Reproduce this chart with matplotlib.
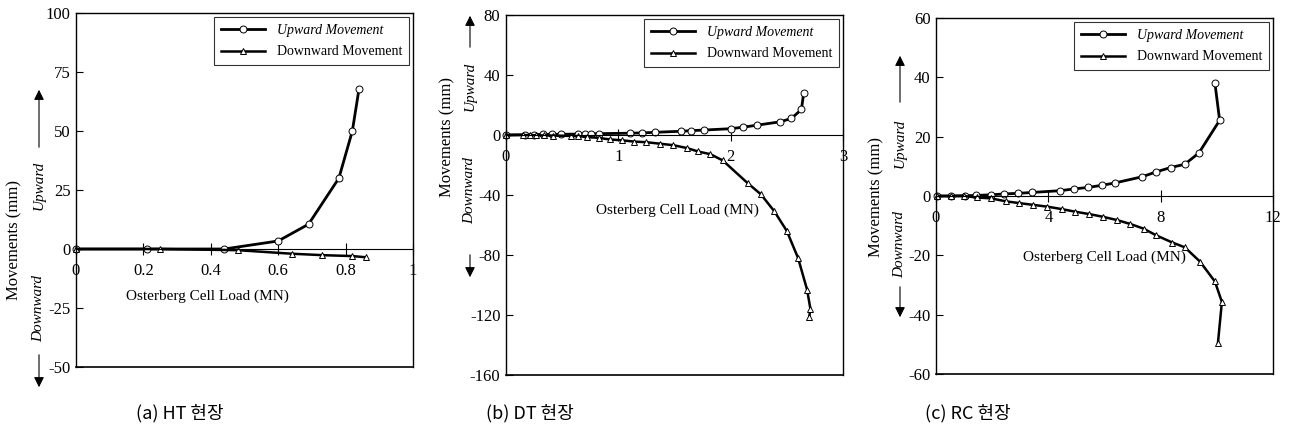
import numpy as np
import matplotlib.pyplot as plt
from matplotlib.patches import FancyArrowPatch

plt.rcParams['font.family'] = ['Liberation Serif', 'DejaVu Serif']
plt.rcParams['axes.unicode_minus'] = False

W, H = 1293, 436

# (a) HT site
a_up_x = [0.0, 0.21, 0.44, 0.60, 0.69, 0.78, 0.82, 0.84]
a_up_y = [0.0, 0.0, 0.0, 3.4, 10.5, 30.0, 50.0, 68.0]
a_dn_x = [0.0, 0.25, 0.48, 0.64, 0.73, 0.82, 0.86]
a_dn_y = [0.0, 0.0, -0.5, -2.0, -2.6, -3.0, -3.5]

# (b) DT site
b_up_x = [0.0, 0.17, 0.25, 0.33, 0.41, 0.49, 0.64, 0.70, 0.76, 0.83, 1.10, 1.21,
          1.33, 1.56, 1.65, 1.76, 2.00, 2.11, 2.23, 2.44, 2.54, 2.63, 2.65]
b_up_y = [0.0, 0.2, 0.3, 0.4, 0.5, 0.5, 0.6, 0.7, 0.8, 0.9, 1.2, 1.4,
          1.8, 2.5, 2.9, 3.3, 4.2, 5.2, 6.5, 8.8, 11.0, 17.0, 28.0]
b_dn_x = [0.0, 0.15, 0.21, 0.27, 0.34, 0.42, 0.58, 0.64, 0.72, 0.83, 0.93, 1.03,
          1.14, 1.25, 1.37, 1.49, 1.61, 1.71, 1.82, 1.93, 2.15, 2.27, 2.39, 2.50,
          2.60, 2.68, 2.71, 2.70]
b_dn_y = [0.0, 0.0, -0.1, -0.2, -0.3, -0.4, -0.6, -0.8, -1.2, -2.0, -3.0, -3.5,
          -4.4, -4.8, -5.8, -6.8, -8.7, -11.0, -12.8, -17.0, -32.0, -39.6, -51.0, -64.0,
          -82.0, -103.0, -116.0, -121.0]

# (c) RC site
c_up_x = [0.05, 0.52, 1.05, 1.43, 1.96, 2.43, 2.93, 3.43, 4.43, 4.93, 5.43, 5.90,
          6.37, 7.35, 7.83, 8.36, 8.86, 9.36, 10.10, 9.93]
c_up_y = [0.0, 0.0, 0.1, 0.2, 0.4, 0.7, 0.9, 1.2, 1.8, 2.4, 2.9, 3.6,
          4.4, 6.5, 8.1, 9.6, 10.7, 14.5, 25.5, 38.2]
c_dn_x = [0.05, 0.52, 1.0, 1.45, 1.96, 2.49, 2.97, 3.47, 3.97, 4.47, 4.96, 5.46,
          5.94, 6.44, 6.91, 7.39, 7.85, 8.42, 8.86, 9.40, 9.93, 10.18, 10.04]
c_dn_y = [0.0, 0.0, 0.0, -0.5, -0.8, -1.8, -2.4, -3.0, -3.6, -4.4, -5.3, -6.1,
          -7.0, -8.1, -9.4, -11.0, -13.3, -15.7, -17.3, -22.1, -28.8, -35.7, -49.5]

panels = [
    dict(rect=(76, 13, 413, 367), xlim=(0, 1), ylim=(-50, 100),
         xticks=[0, 0.2, 0.4, 0.6, 0.8, 1], xtl=['0', '0.2', '0.4', '0.6', '0.8', '1'],
         yticks=[-50, -25, 0, 25, 50, 75, 100],
         up=(a_up_x, a_up_y), dn=(a_dn_x, a_dn_y), load=(0.39, -20),
         ylab=(14, 240), upw=(39, 185), upar=(150, 87), dnw=(39, 308), dnar=(352, 390),
         cap=(180, 'a', 'HT')),
    dict(rect=(506, 15, 843, 375), xlim=(0, 3), ylim=(-160, 80),
         xticks=[0, 1, 2, 3], xtl=['0', '1', '2', '3'],
         yticks=[-160, -120, -80, -40, 0, 40, 80],
         up=(b_up_x, b_up_y), dn=(b_dn_x, b_dn_y), load=(1.53, -50),
         ylab=(447, 137), upw=(470, 86), upar=(50, 13), dnw=(470, 190), dnar=(252, 280),
         cap=(530, 'b', 'DT')),
    dict(rect=(936, 18, 1273, 374), xlim=(0, 12), ylim=(-60, 60),
         xticks=[0, 4, 8, 12], xtl=['0', '4', '8', '12'],
         yticks=[-60, -40, -20, 0, 20, 40, 60],
         up=(c_up_x, c_up_y), dn=(c_dn_x, c_dn_y), load=(6.0, -20.5),
         ylab=(876, 197), upw=(900, 143), upar=(105, 53), dnw=(900, 244), dnar=(284, 320),
         cap=(968, 'c', 'RC')),
]

fig = plt.figure(figsize=(W / 100, H / 100), dpi=100)


def fx(px):
    return px / W


def fy(py):
    return 1 - py / H


for p in panels:
    l, t, r, b = p['rect']
    ax = fig.add_axes([fx(l), fy(b), (r - l) / W, (b - t) / H])
    ax.set_xlim(*p['xlim'])
    ax.set_ylim(*p['ylim'])

    ux, uy = p['up']
    dx, dy = p['dn']
    ax.plot(ux, uy, '-', color='k', lw=2, marker='o', ms=5, mfc='white', mec='k', mew=0.7,
            label='Upward Movement', clip_on=False)
    ax.plot(dx, dy, '-', color='k', lw=1.8, marker='^', ms=5, mfc='white', mec='k', mew=0.7,
            label='Downward Movement', clip_on=False)

    # x axis drawn through zero, keep the bottom frame line too
    ax.spines['bottom'].set_position(('data', 0))
    ax.spines['bottom'].set_linewidth(0.8)
    ax.plot([0, 1], [0, 0], transform=ax.transAxes, color='k', lw=1.2, clip_on=False)
    for s in ['left', 'right', 'top']:
        ax.spines[s].set_linewidth(1.0)

    ax.set_xticks(p['xticks'])
    ax.set_xticklabels(p['xtl'])
    ax.set_yticks(p['yticks'])
    ax.tick_params(axis='x', direction='inout', length=8, width=0.8, pad=6, labelsize=12)
    ax.tick_params(axis='y', direction='in', length=5, width=0.8, pad=4, labelsize=12)

    ax.text(p['load'][0], p['load'][1], 'Osterberg Cell Load (MN)', fontsize=11,
            ha='center', va='center')

    leg = ax.legend(loc='upper right', fontsize=10, frameon=True, fancybox=False,
                    edgecolor='k', handlelength=3.2, borderaxespad=0.3,
                    borderpad=0.5, labelspacing=0.6)
    leg.get_frame().set_linewidth(0.8)
    leg.get_texts()[0].set_fontstyle('italic')

    # side labels and direction arrows
    fig.text(fx(p['ylab'][0]), fy(p['ylab'][1]), 'Movements (mm)', rotation=90,
             fontsize=12, ha='center', va='center')
    fig.text(fx(p['upw'][0]), fy(p['upw'][1]), 'Upward', rotation=90, style='italic',
             fontsize=11, ha='center', va='center')
    fig.text(fx(p['dnw'][0]), fy(p['dnw'][1]), 'Downward', rotation=90, style='italic',
             fontsize=11, ha='center', va='center')
    x0 = fx(p['upw'][0])
    fig.add_artist(FancyArrowPatch(
        (x0, fy(p['upar'][0])), (x0, fy(p['upar'][1])), transform=fig.transFigure,
        arrowstyle='-|>,head_length=6,head_width=3', color='k', lw=0.8))
    fig.add_artist(FancyArrowPatch(
        (x0, fy(p['dnar'][0])), (x0, fy(p['dnar'][1])), transform=fig.transFigure,
        arrowstyle='-|>,head_length=6,head_width=3', color='k', lw=0.8))

    cx, letter, site = p['cap']
    fig.text(fx(cx), fy(413), f'({letter}) {site} 현장', fontsize=13,
             family=['Noto Sans CJK KR', 'DejaVu Sans'], ha='center', va='center')

fig.savefig('out.png', dpi=100)
